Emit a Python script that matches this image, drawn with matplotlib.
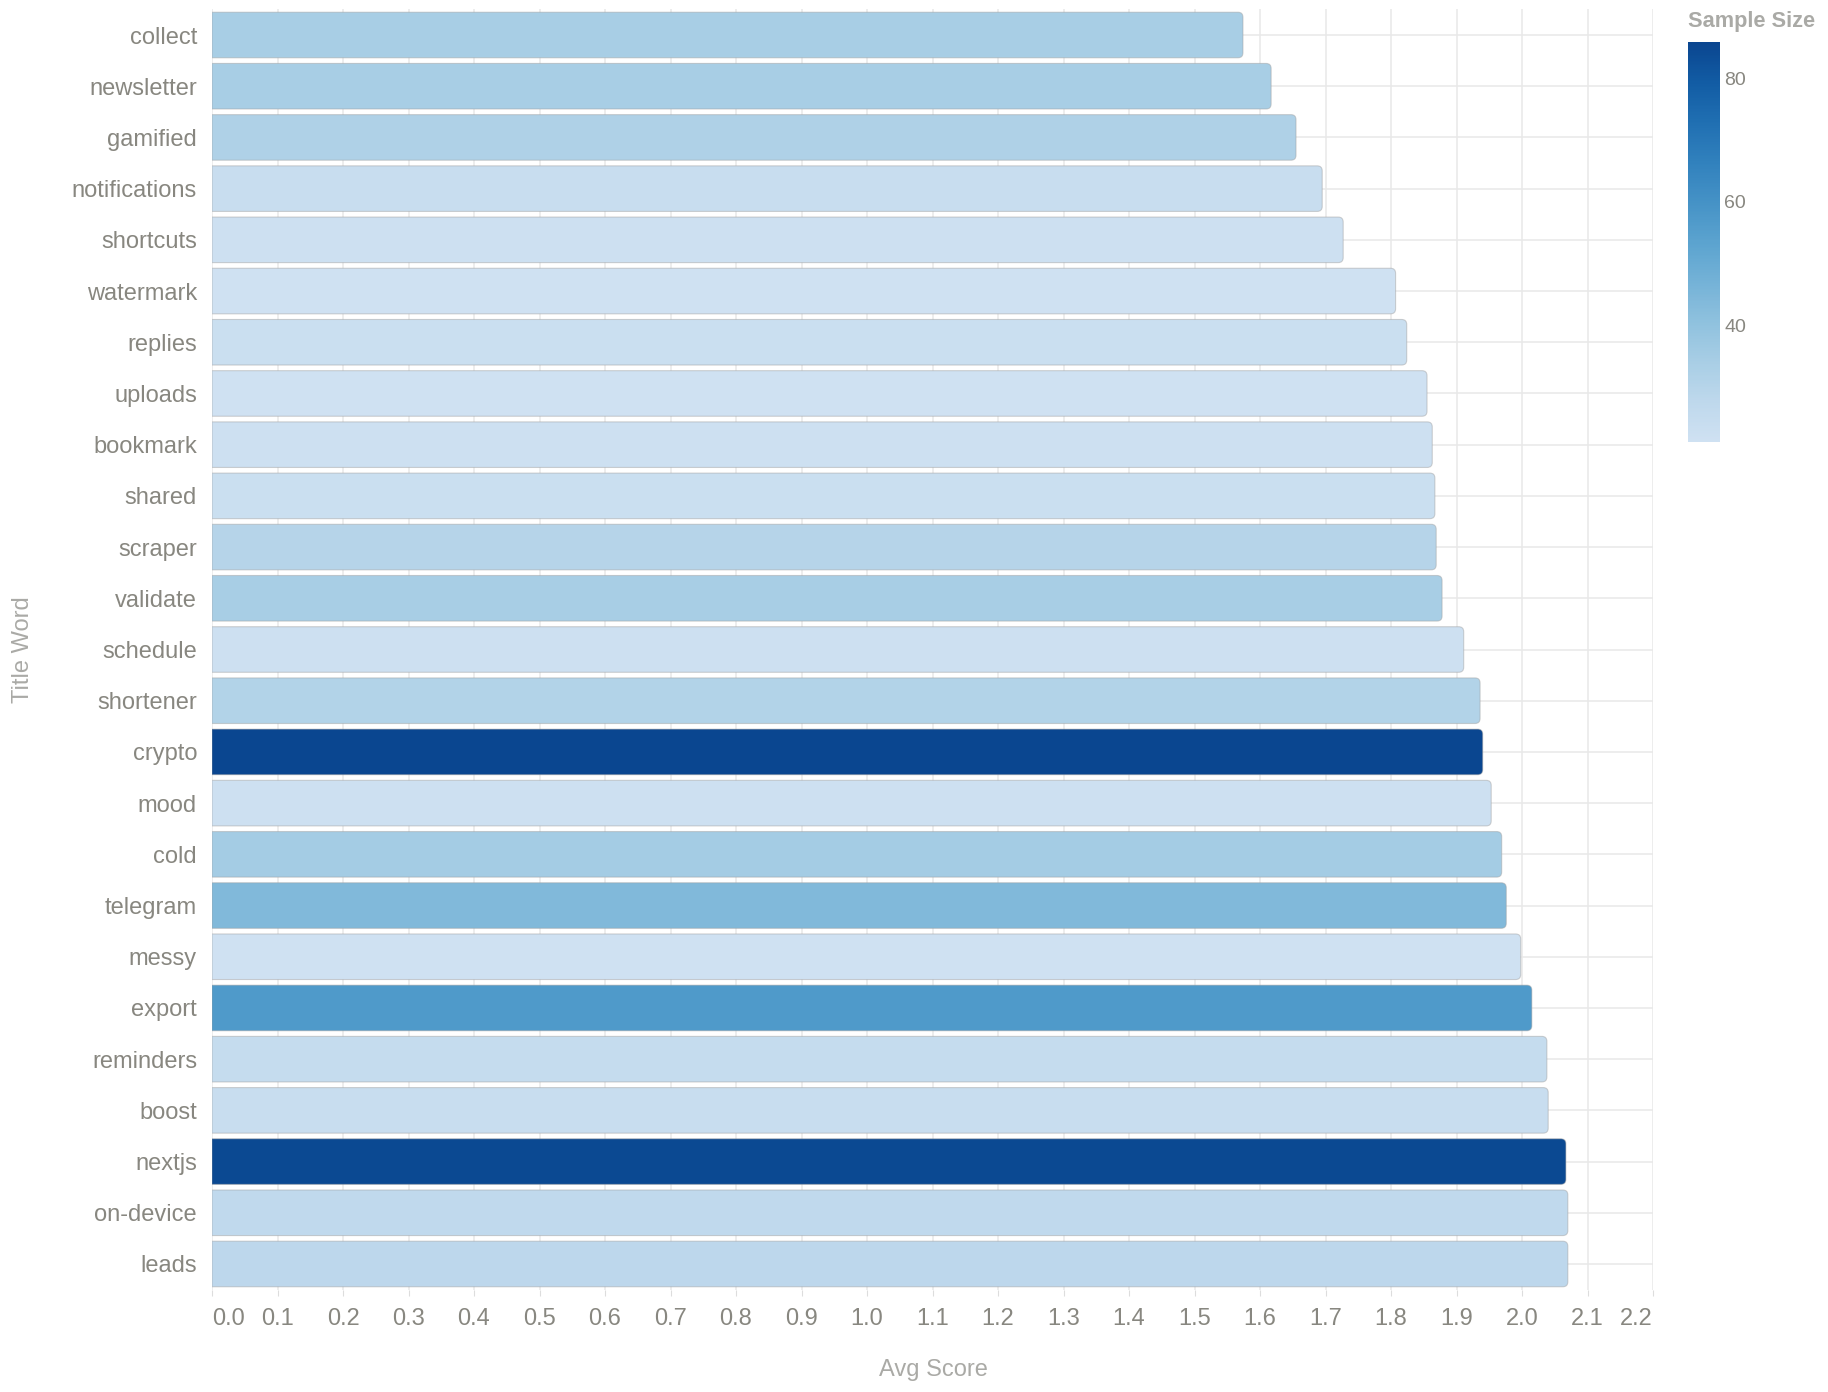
import matplotlib
matplotlib.use("Agg")
import matplotlib.pyplot as plt
from matplotlib.path import Path
from matplotlib.patches import PathPatch
from matplotlib.colors import LinearSegmentedColormap, Normalize
import matplotlib.cm as cm

# ---------------- data ----------------
words = ["collect", "newsletter", "gamified", "notifications", "shortcuts",
         "watermark", "replies", "uploads", "bookmark", "shared", "scraper",
         "validate", "schedule", "shortener", "crypto", "mood", "cold",
         "telegram", "messy", "export", "reminders", "boost", "nextjs",
         "on-device", "leads"]
avg_score = [1.574, 1.617, 1.655, 1.695, 1.727, 1.807, 1.824, 1.855, 1.863,
             1.867, 1.869, 1.878, 1.911, 1.936, 1.940, 1.953, 1.969, 1.976,
             1.998, 2.015, 2.038, 2.040, 2.067, 2.070, 2.070]
sample_size = [34, 34, 32, 24, 22, 21, 23, 21, 22, 23, 30, 34, 22, 31, 86,
               22, 35, 44, 21, 57, 25, 24, 85, 27, 28]
x_ticks = [round(0.1 * i, 1) for i in range(23)]
cbar_ticks = [40, 60, 80]

# vega "blues" scheme
blues_hex = ["#cfe1f2", "#bed8ec", "#a8cee5", "#8fc1de", "#74b2d7",
             "#5ba3cf", "#4592c6", "#3181bd", "#206fb2", "#125ca4", "#0a4690"]
cmap = LinearSegmentedColormap.from_list("vega_blues", blues_hex)
norm = Normalize(vmin=min(sample_size), vmax=max(sample_size))

plt.rcParams['font.family'] = ['Liberation Sans', 'DejaVu Sans']

W, H = 1828, 1392
fig = plt.figure(figsize=(W / 100, H / 100), dpi=100)
ax_l, ax_r, ax_t, ax_b = 212, 1653, 9.4, 1289.6
ax = fig.add_axes([ax_l / W, 1 - ax_b / H, (ax_r - ax_l) / W, (ax_b - ax_t) / H])

label_col = "#888780"
title_col = "#aaaaa6"
grid_col = "#e8e8e8"

ypos = list(range(len(words)))
colors = [cmap(norm(s)) for s in sample_size]
bars = ax.barh(ypos, avg_score, height=0.89, color=colors, zorder=3)

ax.set_xlim(0, 2.2)
ax.set_ylim(len(words) - 0.5, -0.5)

# rounded ends (radius ~5 px)
px_per_x = (ax_r - ax_l) / 2.2
px_per_y = (ax_b - ax_t) / len(words)
rx, ry = 5 / px_per_x, 5 / px_per_y
for b in bars:
    x0, y0 = b.get_x(), b.get_y()
    x1, y1 = x0 + b.get_width(), y0 + b.get_height()
    verts = [(x0, y0), (x1 - rx, y0), (x1, y0), (x1, y0 + ry),
             (x1, y1 - ry), (x1, y1), (x1 - rx, y1), (x0, y1), (x0, y0)]
    codes = [Path.MOVETO, Path.LINETO, Path.CURVE3, Path.CURVE3,
             Path.LINETO, Path.CURVE3, Path.CURVE3, Path.LINETO, Path.CLOSEPOLY]
    p = PathPatch(Path(verts, codes), facecolor=b.get_facecolor(),
                  edgecolor=(0.62, 0.62, 0.62, 0.45), linewidth=0.8, zorder=3)
    ax.add_patch(p)
    b.remove()

# grid
for xv in x_ticks:
    ax.axvline(xv, color=grid_col, lw=1.1, zorder=1)
for yv in ypos:
    ax.axhline(yv, color=grid_col, lw=1.1, zorder=1)

for s in ax.spines.values():
    s.set_visible(False)

ax.set_xticks(x_ticks)
ax.set_xticklabels([f"{v:.1f}" for v in x_ticks])
ax.tick_params(axis='x', length=4.5, width=0.8, color="#dddddd", pad=8.5,
               labelsize=17, labelcolor=label_col)
xl = ax.get_xticklabels()
xl[0].set_ha('left')
xl[-1].set_ha('right')

ax.set_yticks(ypos)
ax.set_yticklabels(words)
ax.tick_params(axis='y', length=0, pad=10.8, labelsize=17, labelcolor=label_col)

fig.text(933 / W, 1 - 1370 / H, "Avg Score", ha='center', va='center',
         fontsize=17, color=title_col)
fig.text(23 / W, 1 - 650 / H, "Title Word", ha='center', va='center',
         rotation=90, fontsize=17, color=title_col)

# colorbar
cax = fig.add_axes([1688 / W, 1 - 442 / H, 32 / W, 400 / H])
cb = fig.colorbar(cm.ScalarMappable(norm=norm, cmap=cmap), cax=cax,
                  ticks=cbar_ticks)
cb.outline.set_visible(False)
cax.tick_params(length=0, pad=3, labelsize=14, labelcolor=label_col)
fig.text(1688 / W, 1 - 21 / H, "Sample Size", ha='left', va='center',
         fontsize=15.7, fontweight='bold', color=title_col)

fig.savefig("out.png", dpi=100, facecolor="white")
